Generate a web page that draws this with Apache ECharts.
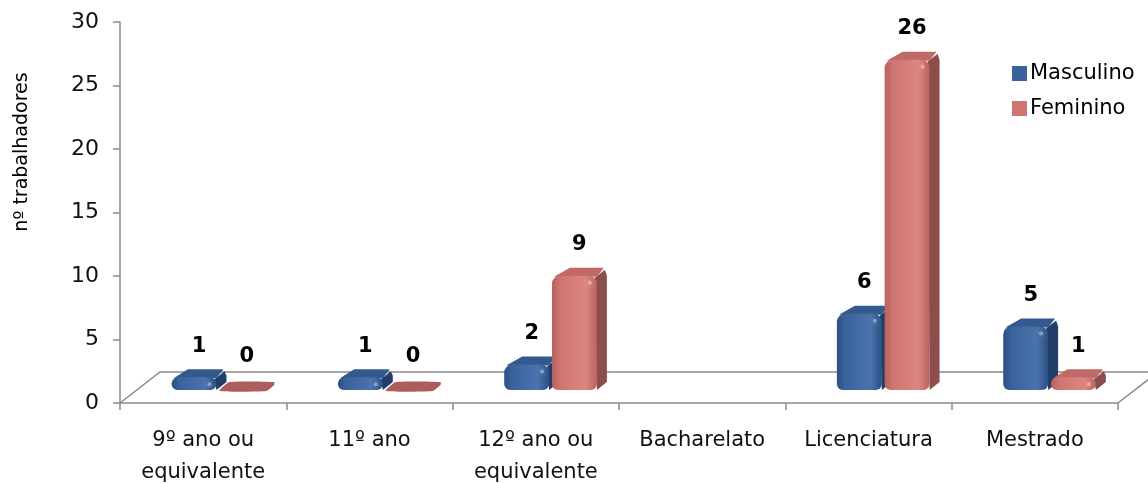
<!DOCTYPE html>
<html>
<head>
<meta charset="utf-8">
<script src="https://cdn.jsdelivr.net/npm/echarts@6/dist/echarts.min.js"></script>
<style>
  html, body { margin: 0; padding: 0; background: #fff; }
  #chart { width: 1148px; height: 483px; }
</style>
</head>
<body>
<div id="chart"></div>
<script>
// Trabalhadores por habilitações literárias e sexo
const categories = ['9º ano ou\nequivalente', '11º ano', '12º ano ou\nequivalente', 'Bacharelato', 'Licenciatura', 'Mestrado'];
const masculino = [1, 1, 2, null, 6, 5];
const feminino = [0, 0, 9, null, 26, 1];
const seriesNames = ['Masculino', 'Feminino'];
const yAxisTitle = 'nº trabalhadores';

const FONT = 'DejaVu Sans';
const AXIS_GREY = '#8a8a8a';

const palettes = {
  Masculino: {
    base: '#3a629b', dark: '#2b4f82', light: '#4a73ad', side: '#233f69', top: '#34598e', tile: '#2f5284'
  },
  Feminino: {
    base: '#ce7471', dark: '#b9625f', light: '#dc8683', side: '#8c4e4d', top: '#c06a67', tile: '#ad5d5b'
  }
};

// Bars stand in the middle of the floor's depth, drawn as bevelled boxes
function barRenderer(pal, offsetFrac) {
  return function (params, api) {
    const ci = api.value(0);
    const v = api.value(1);
    if (v == null || isNaN(v)) return;
    const bw = api.size([1, 0])[0];
    const base = api.coord([ci, 0]);
    const top = api.coord([ci, v]);
    const lift = 13;
    const L = base[0] + offsetFrac * bw;
    const W = 0.27 * bw;
    const R = L + W;
    const yb = base[1] - lift;
    let yt = top[1] - lift;
    const dx = 10, dy = -8;
    const children = [];
    const h = yb - yt;
    if (h < 2) {
      // empty bar: a flat rounded tile lying on the floor
      yt = yb - 2;
      const t = 3;
      children.push({
        type: 'polygon',
        shape: {
          points: [[L, yb + 1], [L + dx, yb + dy], [R + dx, yb + dy], [R + dx, yb + dy + t], [R + 2, yb + 1]],
          smooth: 0.15
        },
        style: { fill: pal.tile }
      });
    } else {
      const r = Math.min(8, h / 2);
      children.push({
        type: 'polygon',
        shape: { points: [[R - 2, yt + 2], [R + dx - 2, yt + dy + 2], [R + dx, yt + dy + r], [R + dx, yb + dy], [R, yb]] },
        style: { fill: pal.side }
      });
      children.push({
        type: 'polygon',
        shape: { points: [[L + 2, yt + 1], [L + dx + r, yt + dy], [R + dx - 3, yt + dy], [R, yt + 1]] },
        style: { fill: pal.top }
      });
      children.push({
        type: 'rect',
        shape: { x: L, y: yt, width: W, height: h, r: [r, r, Math.min(6, r), Math.min(6, r)] },
        style: {
          fill: new echarts.graphic.LinearGradient(0, 0, 1, 0, [
            { offset: 0, color: pal.dark },
            { offset: 0.18, color: pal.base },
            { offset: 0.75, color: pal.light },
            { offset: 1, color: pal.dark }
          ])
        }
      });
      children.push({
        type: 'circle',
        shape: { cx: R - 7, cy: yt + 7, r: 2 },
        style: { fill: 'rgba(255,255,255,0.35)', shadowBlur: 4, shadowColor: 'rgba(255,255,255,0.6)' }
      });
    }
    children.push({
      type: 'text',
      style: {
        text: String(v),
        x: L + W / 2 + dx / 2,
        y: yt + dy - 23,
        align: 'center',
        verticalAlign: 'middle',
        font: 'bold 21px "' + FONT + '"',
        fill: '#000'
      }
    });
    return { type: 'group', children: children };
  };
}

// Floor of the 3D plot area: back edge and both side edges
function floorRenderer(params, api) {
  const bw = api.size([1, 0])[0];
  const first = api.coord([0, 0]);
  const last = api.coord([categories.length - 1, 0]);
  const x0 = first[0] - bw / 2;
  const x1 = last[0] + bw / 2;
  const y0 = first[1];
  const ddx = 40, ddy = -31;
  const lineStyle = { stroke: AXIS_GREY, lineWidth: 1.5, fill: null };
  return {
    type: 'group',
    children: [
      { type: 'polyline', shape: { points: [[x0, y0], [x0 + ddx, y0 + ddy], [x1 + ddx, y0 + ddy], [x1, y0]] }, style: lineStyle }
    ]
  };
}

const chart = echarts.init(document.getElementById('chart'), null, { renderer: 'canvas' });

chart.setOption({
  animation: false,
  backgroundColor: '#fff',
  textStyle: { fontFamily: FONT },
  grid: { left: 120, right: 30, top: 22, bottom: 80, containLabel: false, outerBoundsMode: 'none' },
  legend: {
    data: seriesNames,
    orient: 'vertical',
    left: 1007,
    top: 57,
    itemWidth: 15,
    itemHeight: 15,
    itemGap: 12,
    icon: 'rect',
    textStyle: { fontFamily: FONT, fontSize: 21, color: '#000', lineHeight: 23, padding: [0, 0, 0, -2] }
  },
  xAxis: {
    type: 'category',
    data: categories,
    axisLine: { show: true, lineStyle: { color: AXIS_GREY, width: 1.5 } },
    axisTick: { show: true, interval: 0, length: 7, lineStyle: { color: AXIS_GREY, width: 1.5 } },
    axisLabel: { interval: 0, fontFamily: FONT, fontSize: 21, color: '#111', margin: 22, lineHeight: 32 },
    splitLine: { show: false }
  },
  yAxis: {
    type: 'value',
    min: 0,
    max: 30,
    interval: 5,
    axisLine: { show: true, lineStyle: { color: AXIS_GREY, width: 1.5 } },
    axisTick: { show: true, length: 7, lineStyle: { color: AXIS_GREY, width: 1.5 } },
    axisLabel: { fontFamily: FONT, fontSize: 22, color: '#111', margin: 21 },
    splitLine: { show: false }
  },
  graphic: [{
    type: 'text',
    x: 22,
    y: 152,
    rotation: Math.PI / 2,
    style: {
      text: yAxisTitle,
      font: '19px "' + FONT + '"',
      fill: '#000',
      align: 'center',
      verticalAlign: 'middle'
    }
  }],
  series: [
    {
      name: 'floor',
      type: 'custom',
      silent: true,
      z: 1,
      renderItem: floorRenderer,
      data: [[0, 0]]
    },
    {
      name: seriesNames[0],
      type: 'custom',
      z: 2,
      itemStyle: { color: palettes.Masculino.base },
      renderItem: barRenderer(palettes.Masculino, -0.19),
      data: masculino.map((v, i) => [i, v])
    },
    {
      name: seriesNames[1],
      type: 'custom',
      z: 3,
      itemStyle: { color: palettes.Feminino.base },
      renderItem: barRenderer(palettes.Feminino, 0.097),
      data: feminino.map((v, i) => [i, v])
    }
  ]
});
</script>
</body>
</html>
